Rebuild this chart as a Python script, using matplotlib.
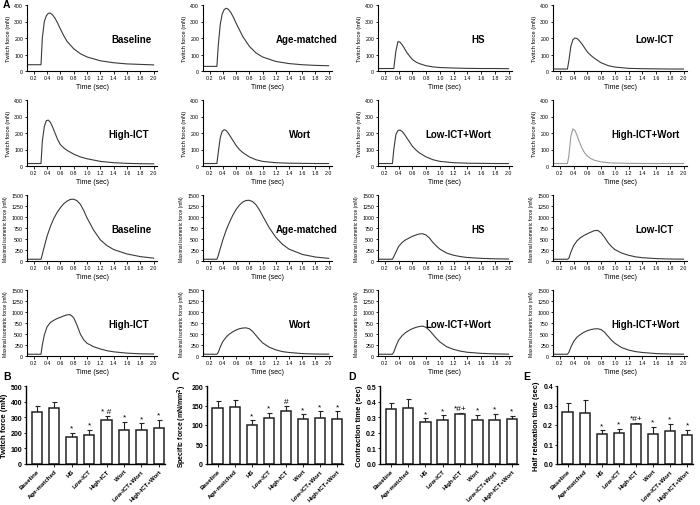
import matplotlib
matplotlib.use("Agg")
import matplotlib.pyplot as plt
import numpy as np

plt.rcParams['font.family'] = ['Liberation Sans', 'DejaVu Sans']

# ---------------- Data ----------------
groups = ["Baseline", "Age-matched", "HS", "Low-ICT", "High-ICT", "Wort",
          "Low-ICT+Wort", "High-ICT+Wort"]

# Twitch traces (time in sec, force in mN)
t_twitch = [0.1, 0.31, 0.33, 0.36, 0.39, 0.42, 0.45, 0.48, 0.52, 0.56, 0.6,
            0.65, 0.7, 0.8, 0.9, 1.0, 1.2, 1.4, 1.6, 1.8, 2.0]
tw_baseline = [38, 38, 200, 300, 335, 350, 350, 342, 320, 290, 255, 215, 180, 135, 105, 85, 62, 50, 43, 40, 37]
tw_age = [28, 28, 150, 280, 345, 372, 380, 375, 355, 325, 290, 250, 210, 150, 110, 85, 58, 45, 38, 34, 32]
tw_hs = [15, 15, 15, 120, 178, 175, 160, 140, 112, 90, 70, 55, 45, 32, 25, 21, 18, 16, 15, 15, 14]
tw_low = [12, 12, 60, 150, 190, 200, 197, 185, 165, 140, 115, 95, 78, 50, 33, 24, 16, 14, 13, 12, 12]
tw_high = [15, 15, 150, 240, 275, 278, 265, 240, 200, 160, 130, 110, 95, 72, 55, 44, 28, 20, 16, 14, 13]
tw_wort = [15, 15, 80, 170, 210, 220, 215, 200, 175, 150, 125, 100, 82, 55, 38, 28, 20, 17, 16, 15, 15]
tw_lowwort = [15, 15, 100, 190, 215, 218, 210, 195, 170, 145, 120, 98, 80, 55, 38, 28, 20, 17, 16, 15, 15]
tw_highwort = [15, 15, 60, 180, 225, 215, 185, 150, 110, 80, 60, 45, 35, 25, 20, 18, 16, 15, 15, 15, 15]

# Tetanic traces (time in sec, maximal isometric force in mN)
t_tet = [0.1, 0.31, 0.33, 0.36, 0.4, 0.45, 0.5, 0.55, 0.6, 0.65, 0.7, 0.75,
         0.8, 0.85, 0.9, 0.95, 1.0, 1.1, 1.2, 1.3, 1.4, 1.6, 1.8, 2.0]
te_baseline = [40, 40, 150, 330, 560, 780, 960, 1100, 1210, 1300, 1360, 1400, 1405, 1370, 1290, 1150, 980, 700, 480, 350, 260, 160, 100, 65]
te_age = [40, 40, 120, 280, 480, 700, 880, 1040, 1170, 1270, 1340, 1375, 1380, 1350, 1280, 1170, 1030, 760, 540, 380, 270, 150, 90, 60]
te_hs = [40, 40, 100, 200, 330, 420, 480, 520, 560, 590, 615, 620, 590, 520, 420, 340, 270, 180, 130, 100, 80, 60, 50, 45]
te_low = [40, 40, 60, 200, 350, 460, 530, 580, 620, 655, 690, 695, 640, 540, 420, 330, 260, 180, 130, 95, 75, 55, 45, 42]
te_high = [40, 40, 250, 480, 660, 760, 810, 850, 880, 910, 935, 940, 870, 700, 500, 370, 290, 210, 160, 120, 95, 65, 50, 45]
te_wort = [40, 40, 80, 200, 330, 430, 500, 550, 590, 620, 635, 640, 620, 560, 470, 380, 300, 200, 140, 100, 80, 55, 45, 42]
te_lowwort = [40, 40, 90, 220, 360, 460, 530, 580, 620, 650, 670, 680, 650, 580, 490, 400, 320, 210, 150, 110, 85, 60, 48, 42]
te_highwort = [40, 40, 80, 200, 330, 430, 490, 540, 575, 600, 615, 620, 600, 540, 450, 360, 290, 190, 135, 100, 80, 55, 45, 42]

twitch_traces = [tw_baseline, tw_age, tw_hs, tw_low, tw_high, tw_wort, tw_lowwort, tw_highwort]
tet_traces = [te_baseline, te_age, te_hs, te_low, te_high, te_wort, te_lowwort, te_highwort]

# Bar data (mean, upper error)
twitch_mean = [333, 360, 172, 189, 279, 219, 221, 232]
twitch_err = [36, 35, 28, 30, 28, 53, 41, 51]
twitch_sig = ["", "", "*", "*", "* #", "*", "*", "*"]

spec_mean = [143, 146, 101, 118, 136, 115, 119, 116]
spec_err = [18, 18, 11, 13, 12, 12, 16, 19]
spec_sig = ["", "", "*", "*", "#", "*", "*", "*"]

ct_mean = [0.350, 0.358, 0.270, 0.283, 0.318, 0.279, 0.283, 0.290]
ct_err = [0.043, 0.060, 0.022, 0.028, 0.010, 0.036, 0.039, 0.019]
ct_sig = ["", "", "*", "*", "*#+", "*", "*", "*"]

hr_mean = [0.266, 0.263, 0.153, 0.160, 0.203, 0.155, 0.168, 0.151]
hr_err = [0.046, 0.063, 0.019, 0.022, 0.006, 0.037, 0.038, 0.024]
hr_sig = ["", "", "*", "*", "*#+", "*", "*", "*"]

# ---------------- Figure ----------------
W, H = 700, 506
fig = plt.figure(figsize=(W / 100, H / 100), dpi=100)


def rect(l, t, r, b):
    return [l / W, 1 - b / H, (r - l) / W, (b - t) / H]


def style(ax, lw=0.8):
    for s in ("top", "right"):
        ax.spines[s].set_visible(False)
    for s in ("left", "bottom"):
        ax.spines[s].set_linewidth(lw)
    ax.tick_params(direction="out", length=1.8, width=0.6, pad=1)


col_lr = [(27, 157), (203, 332), (378, 512), (553, 687)]
row_tb = [(6, 72), (101, 167), (196, 262), (291, 357)]
label_x = [0.8, 0.8, 0.75, 0.76, 0.78, 0.75, 0.6, 0.69]
xt = np.round(np.arange(0.2, 2.01, 0.2), 1)

for r in range(4):
    tet = r >= 2
    for c in range(4):
        gi = (r % 2) * 4 + c
        l, rr = col_lr[c]
        t, b = row_tb[r]
        ax = fig.add_axes(rect(l, t, rr, b))
        style(ax)
        if tet:
            y = tet_traces[gi]
            tt = t_tet
            ax.set_ylim(0, 1500)
            ax.set_yticks(np.arange(0, 1501, 250))
            ylab = "Maximal isometric force (mN)"
        else:
            y = twitch_traces[gi]
            tt = t_twitch
            ax.set_ylim(0, 400)
            ax.set_yticks(np.arange(0, 401, 100))
            ylab = "Twitch force (mN)"
        color = "#9a9a9a" if (not tet and gi == 7) else "#3a3a3a"
        ax.plot(tt, y, color=color, lw=0.8)
        ax.set_xlim(0.1, 2.05)
        ax.set_xticks(xt)
        ax.set_xticklabels([f"{v:.1f}" for v in xt])
        ax.tick_params(labelsize=3.8)
        ax.set_xlabel("Time (sec)", fontsize=5, labelpad=2)
        ax.set_ylabel(ylab, fontsize=3.6 if tet else 4.2, labelpad=2)
        ax.text(label_x[gi], 0.48, groups[gi], transform=ax.transAxes,
                ha="center", va="center", fontsize=7, fontweight="bold")

# ---------------- Bar charts ----------------
bar_specs = [
    ((26, 387, 165, 465), twitch_mean, twitch_err, twitch_sig, (0, 500), np.arange(0, 501, 100),
     "Twitch force (mN)", "{:.0f}", "B", 3, 5.6),
    ((207, 387, 343, 465), spec_mean, spec_err, spec_sig, (0, 200), np.arange(0, 201, 50),
     "Specific force (mN/mm$^\\mathbf{2}$)", "{:.0f}", "C", 172, 5.0),
    ((380, 387, 518, 465), ct_mean, ct_err, ct_sig, (0, 0.5), np.round(np.arange(0, 0.51, 0.1), 1),
     "Contraction time (sec)", "{:.1f}", "D", 348, 5.6),
    ((557, 387, 693, 465), hr_mean, hr_err, hr_sig, (0, 0.4), np.round(np.arange(0, 0.41, 0.1), 1),
     "Half relaxation time (sec)", "{:.1f}", "E", 523, 5.4),
]

for (l, t, r, b), mean, err, sig, ylim, yt, ylab, fmt, letter, lx, yfs in bar_specs:
    ax = fig.add_axes(rect(l, t, r, b))
    style(ax, lw=1.0)
    x = np.arange(len(groups))
    ax.bar(x, mean, width=0.6, color="white", edgecolor="#222222", linewidth=1.1, zorder=2)
    ax.errorbar(x, mean, yerr=[np.zeros(len(mean)), err], fmt="none",
                ecolor="#222222", elinewidth=0.8, capsize=1.8, capthick=0.8, zorder=1)
    off = (ylim[1] - ylim[0]) * 0.015
    for xi, m, e, s in zip(x, mean, err, sig):
        if s:
            ax.text(xi, m + e + off, s, ha="center", va="bottom", fontsize=6)
    ax.set_xlim(-0.62, 7.35)
    ax.set_ylim(*ylim)
    ax.set_yticks(yt)
    ax.set_yticklabels([fmt.format(v) for v in yt], fontsize=5, fontweight="bold")
    ax.set_xticks(x)
    ax.set_xticklabels(groups, rotation=45, ha="right", rotation_mode="anchor",
                       fontsize=4.4, fontweight="bold")
    ax.tick_params(axis="x", pad=1.5)
    ax.set_ylabel(ylab, fontsize=yfs, fontweight="bold", labelpad=2)
    fig.text(lx / W, 1 - 377 / H, letter, fontsize=7.5, fontweight="bold", va="center")

fig.text(3 / W, 1 - 5 / H, "A", fontsize=7.5, fontweight="bold", va="center")

fig.savefig("out.png", dpi=100)
